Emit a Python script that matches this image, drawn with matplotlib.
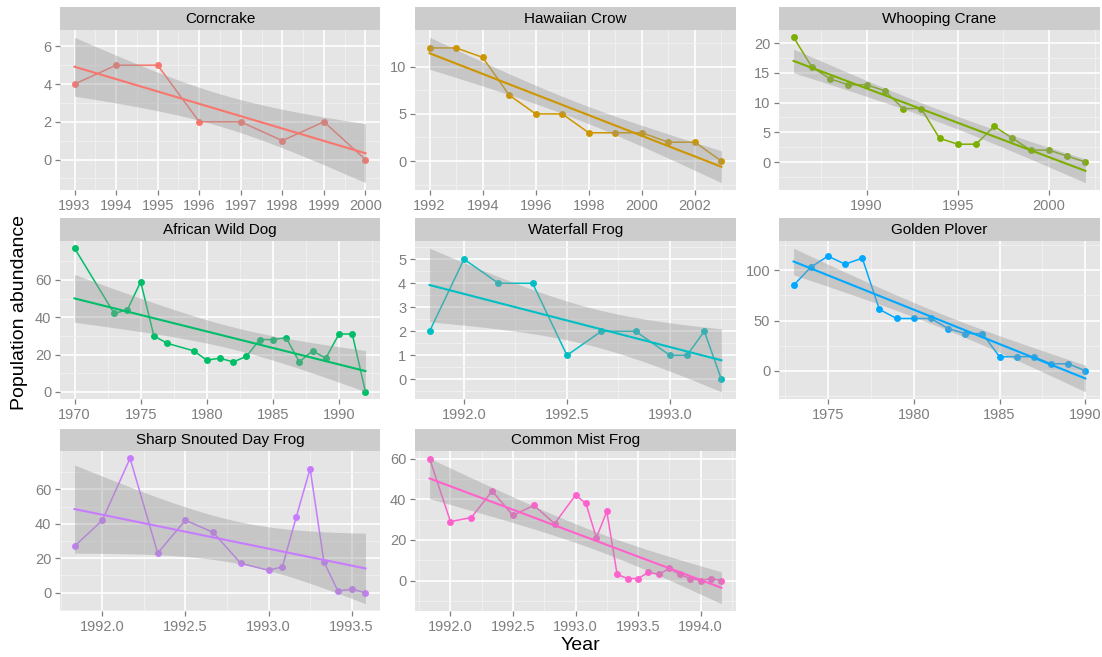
import math
import numpy as np
import matplotlib
matplotlib.use("Agg")
import matplotlib.pyplot as plt
from matplotlib.ticker import FixedLocator, FormatStrFormatter

plt.rcParams["font.family"] = ["Liberation Sans", "DejaVu Sans"]

# ---- data -------------------------------------------------------------
SPECIES = ["Corncrake", "Hawaiian Crow", "Whooping Crane", "African Wild Dog",
           "Waterfall Frog", "Golden Plover", "Sharp Snouted Day Frog",
           "Common Mist Frog"]

COLORS = ["#F8766D", "#CD9600", "#7CAE00", "#00BE67",
          "#00BFC4", "#00A9FF", "#C77CFF", "#FF61CC"]

corncrake_year = [1993, 1994, 1995, 1996, 1997, 1998, 1999, 2000]
corncrake_count = [4, 5, 5, 2, 2, 1, 2, 0]

hawaiian_crow_year = [1992, 1993, 1994, 1995, 1996, 1997, 1998, 1999, 2000,
                      2001, 2002, 2003]
hawaiian_crow_count = [12, 12, 11, 7, 5, 5, 3, 3, 3, 2, 2, 0]

whooping_crane_year = [1986, 1987, 1988, 1989, 1990, 1991, 1992, 1993, 1994,
                       1995, 1996, 1997, 1998, 1999, 2000, 2001, 2002]
whooping_crane_count = [21, 16, 14, 13, 13, 12, 9, 9, 4, 3, 3, 6, 4, 2, 2, 1, 0]

wild_dog_year = [1970, 1973, 1974, 1975, 1976, 1977, 1979, 1980, 1981, 1982,
                 1983, 1984, 1985, 1986, 1987, 1988, 1989, 1990, 1991, 1992]
wild_dog_count = [77, 42, 44, 59, 30, 26, 22, 17, 18, 16, 19, 28, 28, 29, 16,
                  22, 18, 31, 31, 0]

waterfall_frog_year = [1991.833, 1992.0, 1992.167, 1992.333, 1992.5, 1992.667,
                       1992.833, 1993.0, 1993.083, 1993.167, 1993.25]
waterfall_frog_count = [2, 5, 4, 4, 1, 2, 2, 1, 1, 2, 0]

golden_plover_year = [1973, 1974, 1975, 1976, 1977, 1978, 1979, 1980, 1981,
                      1982, 1983, 1984, 1985, 1986, 1987, 1988, 1989, 1990]
golden_plover_count = [85, 103, 114, 106, 112, 61, 52, 52, 52, 42, 37, 37, 14,
                       14, 14, 7, 7, 0]

day_frog_year = [1991.833, 1992.0, 1992.167, 1992.333, 1992.5, 1992.667,
                 1992.833, 1993.0, 1993.083, 1993.167, 1993.25, 1993.333,
                 1993.417, 1993.5, 1993.583]
day_frog_count = [27, 42, 78, 23, 42, 35, 17, 13, 15, 44, 72, 18, 1, 2, 0]

mist_frog_year = [1991.833, 1992.0, 1992.167, 1992.333, 1992.5, 1992.667,
                  1992.833, 1993.0, 1993.083, 1993.167, 1993.25, 1993.333,
                  1993.417, 1993.5, 1993.583, 1993.667, 1993.75, 1993.833,
                  1993.917, 1994.0, 1994.083, 1994.167]
mist_frog_count = [60, 29, 31, 44, 32, 37, 28, 42, 38, 21, 34, 3, 1, 1, 4, 3,
                   6, 3, 1, 0, 1, 0]

YEARS = [corncrake_year, hawaiian_crow_year, whooping_crane_year,
         wild_dog_year, waterfall_frog_year, golden_plover_year,
         day_frog_year, mist_frog_year]
COUNTS = [corncrake_count, hawaiian_crow_count, whooping_crane_count,
          wild_dog_count, waterfall_frog_count, golden_plover_count,
          day_frog_count, mist_frog_count]

X_TICKS = [
    [1993, 1994, 1995, 1996, 1997, 1998, 1999, 2000],
    [1992, 1994, 1996, 1998, 2000, 2002],
    [1990, 1995, 2000],
    [1970, 1975, 1980, 1985, 1990],
    [1992.0, 1992.5, 1993.0],
    [1975, 1980, 1985, 1990],
    [1992.0, 1992.5, 1993.0, 1993.5],
    [1992.0, 1992.5, 1993.0, 1993.5, 1994.0],
]
Y_TICKS = [
    [0, 2, 4, 6],
    [0, 5, 10],
    [0, 5, 10, 15, 20],
    [0, 20, 40, 60],
    [0, 1, 2, 3, 4, 5],
    [0, 50, 100],
    [0, 20, 40, 60],
    [0, 20, 40, 60],
]


# ---- helpers ----------------------------------------------------------
def t_quantile(p, df):
    """Two-sided Student t critical value by bisection on the numeric CDF."""
    c = math.gamma((df + 1) / 2) / (math.sqrt(df * math.pi) * math.gamma(df / 2))
    target = p - 0.5

    def half_cdf(t):
        xs = np.linspace(0.0, t, 4001)
        return np.trapezoid(c * (1 + xs ** 2 / df) ** (-(df + 1) / 2), xs)

    lo, hi = 0.0, 20.0
    for _ in range(60):
        mid = 0.5 * (lo + hi)
        if half_cdf(mid) < target:
            lo = mid
        else:
            hi = mid
    return 0.5 * (lo + hi)


def lm_band(x, y, n_grid=80):
    x = np.asarray(x, float)
    y = np.asarray(y, float)
    n = len(x)
    slope, intercept = np.polyfit(x, y, 1)
    resid = y - (intercept + slope * x)
    s = math.sqrt(np.sum(resid ** 2) / (n - 2))
    xbar = x.mean()
    sxx = np.sum((x - xbar) ** 2)
    xg = np.linspace(x.min(), x.max(), n_grid)
    fit = intercept + slope * xg
    se = s * np.sqrt(1.0 / n + (xg - xbar) ** 2 / sxx)
    tcrit = t_quantile(0.975, n - 2)
    return xg, fit, fit - tcrit * se, fit + tcrit * se


def minor_between(ticks):
    ticks = list(ticks)
    step = ticks[1] - ticks[0]
    mids = [ticks[0] - step / 2]
    mids += [(a + b) / 2 for a, b in zip(ticks[:-1], ticks[1:])]
    mids.append(ticks[-1] + step / 2)
    return mids


# ---- layout (pixel boxes) ---------------------------------------------
W, H = 1102, 657
fig = plt.figure(figsize=(W / 100, H / 100), dpi=100)

COL_X = [(60, 380), (415, 736), (779, 1100)]
ROW_Y = [(7, 30, 190), (218, 241, 399), (429, 451, 611)]  # strip top, panel top, panel bottom

PANEL_BG = "#E5E5E5"
STRIP_BG = "#CCCCCC"
GREY50 = "#7F7F7F"

for i, name in enumerate(SPECIES):
    r, c = divmod(i, 3)
    x0, x1 = COL_X[c]
    st, pt, pb = ROW_Y[r]

    ax = fig.add_axes([x0 / W, 1 - pb / H, (x1 - x0) / W, (pb - pt) / H])
    sax = fig.add_axes([x0 / W, 1 - pt / H, (x1 - x0) / W, (pt - st) / H])
    sax.set_facecolor(STRIP_BG)
    sax.set_xticks([])
    sax.set_yticks([])
    for sp in sax.spines.values():
        sp.set_visible(False)
    sax.text(0.5, 0.48, name, ha="center", va="center", fontsize=11,
             color="black", transform=sax.transAxes)

    x = np.asarray(YEARS[i], float)
    y = np.asarray(COUNTS[i], float)
    col = COLORS[i]

    xg, fit, lo, hi = lm_band(x, y)

    ax.plot(x, y, color=col, lw=1.1, zorder=3)
    ax.plot(x, y, "o", color=col, ms=5.0, mec="none", zorder=3)
    ax.fill_between(xg, lo, hi, color="#999999", alpha=0.4, lw=0, zorder=4)
    ax.plot(xg, fit, color=col, lw=1.5, zorder=5)

    xr = x.max() - x.min()
    ax.set_xlim(x.min() - 0.05 * xr, x.max() + 0.05 * xr)
    ymin = min(y.min(), lo.min())
    ymax = max(y.max(), hi.max())
    yr = ymax - ymin
    ax.set_ylim(ymin - 0.05 * yr, ymax + 0.05 * yr)

    xt = X_TICKS[i]
    yt = Y_TICKS[i]
    ax.xaxis.set_major_locator(FixedLocator(xt))
    ax.yaxis.set_major_locator(FixedLocator(yt))
    ax.xaxis.set_minor_locator(FixedLocator(minor_between(xt)))
    ax.yaxis.set_minor_locator(FixedLocator(minor_between(yt)))
    if any(abs(v - round(v)) > 1e-9 for v in xt):
        ax.xaxis.set_major_formatter(FormatStrFormatter("%.1f"))
    else:
        ax.xaxis.set_major_formatter(FormatStrFormatter("%d"))
    ax.yaxis.set_major_formatter(FormatStrFormatter("%d"))

    ax.set_facecolor(PANEL_BG)
    ax.set_axisbelow(True)
    ax.grid(which="major", color="white", lw=1.2, zorder=0)
    ax.grid(which="minor", color="#F2F2F2", lw=0.6, zorder=0)
    for sp in ax.spines.values():
        sp.set_visible(False)
    ax.tick_params(which="major", length=3.8, width=0.9, color=GREY50,
                   labelcolor=GREY50, labelsize=10.5, pad=2.5)
    ax.tick_params(which="minor", length=0)

fig.text(580 / W, 1 - 646 / H, "Year", ha="center", va="center", fontsize=14)
fig.text(20 / W, 1 - 312 / H, "Population abundance", ha="center",
         va="center", rotation=90, fontsize=14)

fig.savefig("out.png", dpi=100)
